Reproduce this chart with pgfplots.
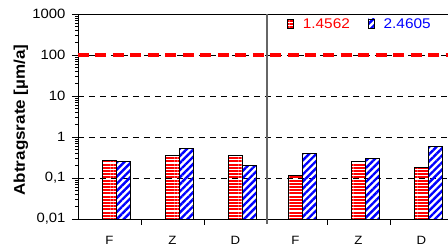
\documentclass[border=0pt]{standalone}
\usepackage{pgfplots}
\pgfplotsset{compat=1.18}
\usepackage{fontspec}
\setmainfont{Liberation Sans}[FakeStretch=1.1]
\usetikzlibrary{patterns.meta}
\tikzset{
  redpat/.style={pattern={Lines[angle=0,distance=3.2pt,line width=1.9pt]},pattern color=red,draw=black,line width=0.7pt},
  bluepat/.style={pattern={Lines[angle=45,distance=5pt,line width=2.4pt]},pattern color=blue,draw=black,line width=0.7pt},
}
\begin{document}
\begin{tikzpicture}
\begin{axis}[
  scale only axis, width=380pt, height=205pt,
  at={(0,0)}, anchor=south west,
  ymode=log, ymin=0.01, ymax=1000, log origin y=infty,
  xmin=-0.5, xmax=5.532,
  ytick={0.01,0.1,1,10,100,1000},
  yticklabels={{0,01},{0,1},1,10,100,1000},
  yticklabel style={font=\fontsize{13.5}{15}\selectfont, xshift=-3pt},
  ymajorgrids, grid style={black, dash pattern=on 6pt off 5pt, line width=0.5pt},
  tick align=outside, major tick length=6pt, minor tick length=2.5pt,
  tick style={black, line width=0.6pt},
  xtick={0.5,1.5,3.45,4.45}, xticklabels={},
  extra x ticks={0,1,2,2.95,3.95,4.95},
  extra x tick labels={F,Z,D,F,Z,D},
  extra x tick style={major tick length=0pt, grid=none, tick label style={font=\fontsize{12}{14}\selectfont, yshift=-14pt}},
  axis x line*=bottom,
  axis line style={black, line width=0.8pt},
  ylabel={\textbf{Abtragsrate [µm/a]}},
  ylabel style={font=\fontsize{15.5}{17}\selectfont, at={(rel axis cs:0,0.483)}, anchor=center, yshift=57pt},
  ybar, bar width=14pt,
  legend columns=2,
  legend style={draw=none, fill=none, at={(rel axis cs:0.934,0.99)}, anchor=north east, font=\fontsize{14}{16}\selectfont, inner sep=1pt,
    nodes={inner sep=1pt},
    /tikz/every odd column/.style={column sep=8pt},
    /tikz/every even column/.style={column sep=17pt}},
  legend image code/.code={\draw[#1] (0pt,-4pt) rectangle (6pt,5pt);},
  clip=false,
]
\draw[black, line width=0.8pt] (rel axis cs:0,1) -- (rel axis cs:1,1);
\draw[black, line width=0.8pt] (rel axis cs:0,0) -- (rel axis cs:0,1);
\addplot[redpat, bar shift=0pt] coordinates {(0,0.27) (1,0.36) (2,0.36) (2.95,0.116) (3.95,0.255) (4.95,0.18)};
\addplot[bluepat, bar shift=14pt] coordinates {(0,0.25) (1,0.53) (2,0.20) (2.95,0.40) (3.95,0.30) (4.95,0.60)};
\legend{\textcolor{red}{1.4562},\textcolor{blue}{2.4605}}
\draw[red, line width=4pt, dash pattern=on 11pt off 6.5pt] (axis cs:-0.5,100) -- (axis cs:5.532,100);
\draw[gray!80!black, line width=1.2pt] (axis cs:2.5,1000) -- ([yshift=-5pt]axis cs:2.5,0.01);
\end{axis}
\pgfresetboundingbox
\path[use as bounding box] (-78pt,-32pt) rectangle (370pt,219pt);
\end{tikzpicture}
\end{document}
